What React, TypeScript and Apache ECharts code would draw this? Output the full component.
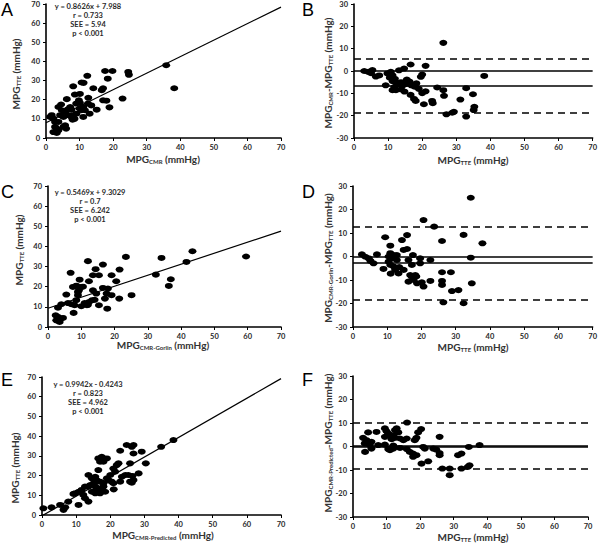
import React, { useEffect, useRef } from "react";
import * as echarts from "echarts";

// ---------- data ----------
const X_TICKS_MAX = 70;

const panelA: number[][] = [
  [35.8, 38], [38.2, 26], [24.5, 34.5], [24.7, 33], [19.8, 35], [17.6, 35], [18.4, 31], [12.3, 32.5],
  [10.6, 29], [11.2, 28.8], [8.1, 27], [14.1, 26], [17, 26], [16.6, 25], [10.1, 23], [8.6, 22.7],
  [22.8, 20.6], [18, 19.5], [17, 19.7], [12.6, 21], [9.8, 19.7], [10.1, 18.3], [6.2, 20.3], [18.9, 16],
  [15.1, 14.8], [13, 12.7], [11.1, 16.2], [11.6, 14.5], [4.5, 17.5], [3.7, 16.2], [7.2, 16.2], [7.6, 14.8],
  [4.7, 14.5], [5.7, 13.6], [10, 15.4], [10.6, 14.5], [9.1, 12.7], [8.1, 11.9], [11.1, 11], [6.7, 11.9],
  [7.6, 11], [4.2, 11.9], [5.2, 11], [2.2, 10.1], [2.7, 8.4], [7.9, 9.6], [3.7, 8.4], [5.7, 6.6],
  [5.2, 5.8], [2.7, 5.8], [3.2, 4.9], [3.7, 4], [2.2, 3.1], [3.2, 2.6], [6, 4.9], [1.2, 11],
  [1.7, 11.9], [12.5, 18], [13.5, 17], [9, 18], [6.5, 15], [8.5, 10],
];
const regA = { slope: 0.8626, intercept: 7.988 };

const panelB: number[][] = [
  [26.2, 12.6], [38.2, -2.2], [3, 0], [4.2, -0.4], [5.4, 0.4], [5, -1], [6.4, -2.5], [7.4, -2],
  [9.3, -6.4], [9.8, -1.1], [10.8, -0.4], [11.3, -1.9], [13.2, 0.3], [14.7, 1.1], [16.6, 2.9], [21, 2.3],
  [20, -1.6], [19.6, -2.6], [11.3, -4.5], [12.3, -5.2], [12.8, -6], [13.8, -5], [14.3, -6.5], [15.3, -5.8],
  [16.3, -4.8], [16.8, -6.4], [17.8, -7], [18.3, -5.5], [11.3, -8.6], [12.3, -8.6], [13.8, -8.2], [14.8, -9.2],
  [11.8, -7.2], [16.6, -10.7], [17.6, -12.5], [18.1, -13.4], [20, -9.9], [21, -9.1], [20.5, -14.9], [22.9, -13.4],
  [23.1, -14.4], [24.4, -7.4], [26.2, -8.6], [26.4, -11.1], [27.1, -19.4], [28.8, -18.7], [29.3, -18.3], [31.2, -12.8],
  [32.9, -7.7], [32.9, -20.4], [34.9, -10.4], [35.3, -16], [35.1, -17.5], [10.5, -3], [12, -3.5], [15.5, -3.8],
  [19, -8],
];
const linesB = { zero: 0, mean: -6.6, upper: 5.5, lower: -18.6 };

const panelC: number[][] = [
  [59.5, 35], [43.4, 37.6], [41.6, 32.3], [34.1, 34.3], [32.4, 26], [36.9, 23.7], [36.3, 20.4], [23.4, 34.8],
  [21.5, 28.5], [20.5, 22.7], [25.1, 15.8], [21.4, 14.1], [12, 32.7], [16.5, 31], [14.3, 28.7], [15.3, 25.7],
  [13.5, 25.7], [19.1, 25.7], [6.8, 26.9], [12.3, 22.7], [9.5, 23.5], [9.3, 18.2], [10, 19.9], [7.5, 19.9],
  [16.5, 19.4], [18, 19.1], [19.1, 15.8], [17.6, 16.6], [17.1, 14.1], [17.8, 9.1], [15.3, 10.8], [14.5, 16.6],
  [13.5, 18.2], [13.3, 13.3], [12.3, 12.4], [11.7, 10.8], [11, 11.9], [10, 10.3], [8.5, 13.3], [8, 10.8],
  [6, 11.9], [7, 11.3], [7.7, 7], [5.5, 16.1], [9, 15.8], [9, 17.4], [4, 11.3], [3, 9.6],
  [2.3, 5.8], [3, 5], [3.7, 4.1], [2.5, 3.3], [3.5, 2.5], [4.5, 4.5], [8.5, 20.5], [10.5, 20],
  [12, 11], [14, 13.5],
];
const regC = { slope: 0.5469, intercept: 9.3029 };

const panelD: number[][] = [
  [34.4, 25], [20.6, 15.5], [23.7, 12.7], [32.3, 9.2], [37.8, 5.6], [26, 6.6], [34.4, -0.5], [9.4, 8.2],
  [10.9, 4.6], [14.3, 7], [15.8, 9.1], [12.8, -1.5], [14.8, 2.8], [15.8, 3.2], [17.5, 0.6], [2.6, 0.9],
  [3.6, -0.1], [4.6, -0.8], [5.1, -1.9], [6, -2.9], [7, 0.9], [8.9, -5.3], [10.4, 0], [10.9, 1.4],
  [11.4, -0.8], [11.9, 0.6], [10.4, -2.2], [10.9, -3.6], [11.9, -4.3], [12.8, 0.6], [12.3, -5.7], [13.3, -7.2],
  [16.2, -1.5], [17.2, -3.6], [19.6, -0.8], [19.6, -2.9], [22.6, -1.5], [14.8, -5.7], [16.7, -7.9], [17.2, -8.6],
  [18.2, -7.9], [16.2, -10.7], [17.7, -10], [18.7, -11.4], [20.1, -11], [20.6, -12.8], [22.6, -10.4], [26, -6.7],
  [26, -10.4], [26, -12.1], [28.6, -6.7], [28.9, -14.7], [30.8, -14.3], [34.7, -11.4], [26.4, -19.5], [32.3, -19.9],
  [13.5, -4.5], [11, -7.3], [18.5, -8.5],
];
const linesD = { zero: 0, mean: -2.8, upper: 12.8, lower: -18.4 };

const panelE: number[][] = [
  [38.5, 38], [34.9, 34.6], [24.8, 35.5], [26.8, 35.5], [26.3, 34.6], [22.9, 32.6], [26.8, 31.2], [29.2, 32.1],
  [17.5, 29.5], [19, 28.7], [18, 27], [16.5, 28.7], [17, 27], [22.4, 26.2], [21.9, 25.3], [25.8, 26.2],
  [30.4, 26.2], [16.5, 22.8], [20.9, 23.6], [21.4, 22], [20, 20.3], [13.6, 20.3], [14.6, 18.6], [15.6, 19.4],
  [16, 17.7], [17, 16.9], [18, 16.1], [19, 18.6], [19.5, 17.7], [20.4, 16.9], [20.9, 16.1], [15.1, 16.1],
  [14.1, 15.2], [15.6, 14.4], [16.5, 13.5], [17.5, 12.7], [18.5, 11.8], [14.6, 11.8], [15.6, 11], [17, 11],
  [18, 14.4], [23.4, 19.4], [24.4, 20.3], [25.3, 20.3], [25.8, 16.9], [26.8, 17.7], [28.3, 21.1], [22.9, 16.9],
  [26.3, 16.4], [12.6, 14.4], [13.6, 14.4], [11.6, 12.7], [10.7, 11.8], [9.7, 11], [9.2, 10.7], [12.1, 10.2],
  [12.6, 8.5], [13.6, 6.8], [10.7, 5.1], [7.7, 6.8], [6.8, 3.9], [6.3, 2.6], [5.3, 5.1], [2.8, 3.9],
  [0.4, 3.4], [26.5, 19.8], [21, 13], [16, 12.5],
];
const regE = { slope: 0.9942, intercept: -0.4243 };

const panelF: number[][] = [
  [16.1, 10.2], [3, 3.7], [4, 2.7], [3.5, 1.3], [5.5, 2], [5, 0.6], [7, 6.2], [4.5, 6],
  [9.5, 7.7], [10, 6.5], [10.5, 5.5], [11, 4.8], [12, 4.8], [12.5, 7], [13, 7.7], [13.5, 6],
  [14, 3.4], [15, 2.7], [16, 3.4], [12.5, 3.7], [11.5, 3.1], [9.5, 4.1], [20.3, 7.4], [19.4, 6],
  [18.9, 3.7], [18.4, 2.7], [25.8, 4.1], [3.6, -2.3], [5.5, -0.9], [7.5, 0.6], [10.5, -1.1], [11, -1.6],
  [12, -0.9], [14, -0.6], [16, -1.1], [16.9, -2.3], [17.9, -3], [18.9, -3.7], [20.9, -0.2], [21.4, -0.9],
  [23.9, -0.9], [24.8, -1.3], [20.4, -7.3], [22.4, -6.3], [25.8, -3.7], [17.9, -4.4], [31.3, -3.7], [32.3, -3],
  [34.5, -0.2], [37.7, 0.6], [26.6, -9.4], [28.8, -9.4], [28.8, -12.2], [32.3, -9.4], [34.2, -8.7], [34.7, -8],
  [25.8, -2.8], [12, 0.4], [9.5, 0.8],
];
const linesF = { zero: 0, mean: 0.45, upper: 10.2, lower: -9.3 };

const statsA = ["y = 0.8626x + 7.988", "r = 0.733", "SEE = 5.94", "p < 0.001"];
const statsC = ["y = 0.5469x + 9.3029", "r = 0.7", "SEE = 6.242", "p < 0.001"];
const statsE = ["y = 0.9942x - 0.4243", "r = 0.823", "SEE = 4.962", "p < 0.001"];

// ---------- styling / layout ----------
const FONT = "Lato, 'Open Sans', 'Liberation Sans', sans-serif";
const TXT = "#2a2a2a";

const grids = [
  { left: 46, top: 4, width: 235, height: 134 },
  { left: 354, top: 4, width: 239, height: 134 },
  { left: 48, top: 186, width: 233, height: 141 },
  { left: 353, top: 186, width: 240, height: 141 },
  { left: 42, top: 377, width: 239, height: 138 },
  { left: 353, top: 376, width: 235, height: 141 },
];

const richStyles = {
  m: { fontSize: 10, fontWeight: "bold", fontFamily: FONT, fill: "#333", lineHeight: 12 },
  s: { fontSize: 6, fontWeight: "bold", fontFamily: FONT, fill: "#333", lineHeight: 12, padding: [5, 0, 0, 0] },
};

function titleText(parts: [string, string][]) {
  return parts.map(([k, t]) => `{${k}|${t}}`).join("");
}

function axisTitle(x: number, y: number, parts: [string, string][], rotate = false) {
  return {
    type: "text",
    x,
    y,
    rotation: rotate ? Math.PI / 2 : 0,
    style: {
      text: titleText(parts),
      rich: richStyles,
      textAlign: "center",
      textVerticalAlign: "middle",
    },
  };
}

function letter(x: number, y: number, t: string) {
  return {
    type: "text",
    x,
    y,
    style: { text: t, fontSize: 18, fontFamily: "'Liberation Sans', Arial, sans-serif", fill: "#000" },
  };
}

function stats(x: number, y: number, lines: string[]) {
  return {
    type: "text",
    x,
    y,
    style: {
      text: lines.join("\n"),
      fontSize: 7.5,
      fontWeight: "bold",
      fontFamily: FONT,
      fill: TXT,
      textAlign: "center",
      lineHeight: 8.8,
    },
  };
}

function xAxisCfg(i: number) {
  return {
    type: "value",
    gridIndex: i,
    min: 0,
    max: X_TICKS_MAX,
    interval: 10,
    splitLine: { show: false },
    axisLine: { onZero: false, lineStyle: { color: "#000", width: 1.6 } },
    axisTick: { show: true, length: 3, lineStyle: { color: "#000", width: 1 } },
    axisLabel: { fontSize: 7.5, fontWeight: "bold", fontFamily: FONT, color: TXT, margin: 5 },
  };
}

function yAxisCfg(i: number, diff: boolean) {
  return {
    type: "value",
    gridIndex: i,
    min: diff ? -30 : 0,
    max: diff ? 30 : 70,
    interval: 10,
    splitLine: { show: false },
    axisLine: { onZero: false, lineStyle: { color: "#000", width: 1.6 } },
    axisTick: { show: true, length: 3, lineStyle: { color: "#000", width: 1 } },
    axisLabel: { fontSize: 7.5, fontWeight: "bold", fontFamily: FONT, color: TXT, margin: 6 },
  };
}

function scatter(i: number, data: number[][], extra: any = {}) {
  return {
    type: "scatter",
    xAxisIndex: i,
    yAxisIndex: i,
    data,
    symbol: "circle",
    symbolSize: [8, 6],
    itemStyle: { color: "#000", opacity: 1 },
    z: 3,
    ...extra,
  };
}

function regLine(i: number, reg: { slope: number; intercept: number }) {
  return {
    type: "line",
    xAxisIndex: i,
    yAxisIndex: i,
    data: [
      [0, reg.intercept],
      [X_TICKS_MAX, reg.slope * X_TICKS_MAX + reg.intercept],
    ],
    showSymbol: false,
    symbol: "none",
    clip: true,
    lineStyle: { color: "#000", width: 1.2 },
    z: 2,
  };
}

function baLines(lines: { zero: number; mean: number; upper: number; lower: number }) {
  const solid = { color: "#000", width: 1.5, type: "solid" };
  const dashed = { color: "#000", width: 1.5, type: [7, 5] };
  return {
    markLine: {
      silent: true,
      symbol: "none",
      label: { show: false },
      data: [
        { yAxis: lines.zero, lineStyle: solid },
        { yAxis: lines.mean, lineStyle: solid },
        { yAxis: lines.upper, lineStyle: dashed },
        { yAxis: lines.lower, lineStyle: dashed },
      ],
    },
  };
}

export default function App() {
  const ref = useRef<HTMLDivElement>(null);
  useEffect(() => {
    if (!ref.current) return;
    const chart = echarts.init(ref.current, undefined, { renderer: "svg" });
    chart.setOption({
      animation: false,
      backgroundColor: "#fff",
      grid: grids.map((g) => ({ ...g, containLabel: false })),
      xAxis: [0, 1, 2, 3, 4, 5].map((i) => xAxisCfg(i)),
      yAxis: [0, 1, 2, 3, 4, 5].map((i) => yAxisCfg(i, i % 2 === 1)),
      series: [
        scatter(0, panelA),
        regLine(0, regA),
        scatter(1, panelB, baLines(linesB)),
        scatter(2, panelC),
        regLine(2, regC),
        scatter(3, panelD, baLines(linesD)),
        scatter(4, panelE),
        regLine(4, regE),
        scatter(5, panelF, baLines(linesF)),
      ],
      graphic: [
        letter(1, 1, "A"),
        letter(302, 1, "B"),
        letter(1, 183, "C"),
        letter(302, 183, "D"),
        letter(1, 371, "E"),
        letter(302, 371, "F"),
        stats(88, 2.5, statsA),
        stats(90, 188.5, statsC),
        stats(88, 380.5, statsE),
        axisTitle(163, 159, [["m", "MPG"], ["s", "CMR"], ["m", " (mmHg)"]]),
        axisTitle(16, 74, [["m", "MPG"], ["s", "TTE"], ["m", " (mmHg)"]], true),
        axisTitle(473, 160, [["m", "MPG"], ["s", "TTE"], ["m", " (mmHg)"]]),
        axisTitle(328, 73, [["m", "MPG"], ["s", "CMR"], ["m", "-MPG"], ["s", "TTE"], ["m", " (mmHg)"]], true),
        axisTitle(163, 345, [["m", "MPG"], ["s", "CMR-Gorlin"], ["m", " (mmHg)"]]),
        axisTitle(19, 250, [["m", "MPG"], ["s", "TTE"], ["m", " (mmHg)"]], true),
        axisTitle(473, 347, [["m", "MPG"], ["s", "TTE"], ["m", " (mmHg)"]]),
        axisTitle(328, 258, [["m", "MPG"], ["s", "CMR-Gorlin"], ["m", "-MPG"], ["s", "TTE"], ["m", " (mmHg)"]], true),
        axisTitle(163, 535, [["m", "MPG"], ["s", "CMR-Predicted"], ["m", " (mmHg)"]]),
        axisTitle(15, 468, [["m", "MPG"], ["s", "TTE"], ["m", " (mmHg)"]], true),
        axisTitle(473, 537, [["m", "MPG"], ["s", "TTE"], ["m", " (mmHg)"]]),
        axisTitle(328, 443, [["m", "MPG"], ["s", "CMR-Predicted"], ["m", "-MPG"], ["s", "TTE"], ["m", " (mmHg)"]], true),
      ],
    });
    return () => chart.dispose();
  }, []);
  return (
    <div
      ref={ref}
      style={{ position: "fixed", left: 0, top: 0, width: 600, height: 544, background: "#fff" }}
    />
  );
}
